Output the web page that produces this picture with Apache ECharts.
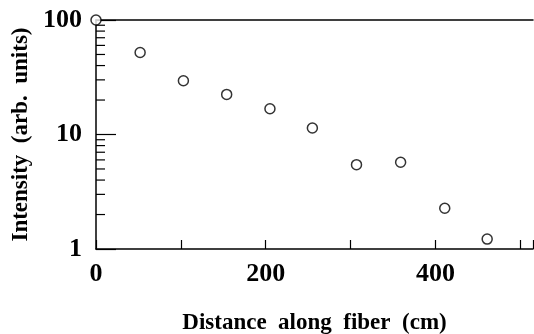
<!DOCTYPE html>
<html>
<head>
    <meta charset="utf-8">
    <title>Intensity vs distance</title>
    <script src="https://cdn.jsdelivr.net/npm/echarts@6/dist/echarts.min.js"></script>
    <style>
        html, body { margin: 0; padding: 0; background: #fff; }
    </style>
</head>
<body>
<div id="main" style="width: 534px;height:334px;"></div>
<script type="text/javascript">
    // values
    var distance = [0, 52, 103, 154, 205, 255, 307, 359, 411, 461];
    var intensity = [100, 52, 29.5, 22.4, 16.8, 11.4, 5.45, 5.72, 2.27, 1.22];
    var xLabels = ['0', '200', '400'];
    var minorTickValues = [2, 3, 4, 5, 6, 7, 8, 9, 20, 30, 40, 50, 60, 70, 80, 90];

    var points = [];
    for (var i = 0; i < distance.length; i++) {
        points.push([distance[i], intensity[i]]);
    }
    var minorData = [];
    for (var j = 0; j < minorTickValues.length; j++) {
        minorData.push([0, minorTickValues[j]]);
    }

    var font = 'Liberation Serif';
    var myChart = echarts.init(document.getElementById('main'));
    var option = {
        animation: false,
        grid: { left: 96, top: 20, right: 1, bottom: 85, outerBoundsMode: 'none', containLabel: false },
        xAxis: [
            {
                type: 'value',
                min: 0,
                max: 515,
                interval: 100,
                name: 'Distance  along  fiber  (cm)',
                nameLocation: 'middle',
                nameGap: 63,
                nameTextStyle: { fontFamily: font, fontWeight: 'bold', fontSize: 23, color: '#000' },
                axisLine: { lineStyle: { color: '#000', width: 1.5 } },
                axisTick: { inside: true, length: 9, lineStyle: { color: '#000', width: 1.2 } },
                axisLabel: {
                    margin: 12,
                    fontFamily: font, fontWeight: 'bold', fontSize: 26, color: '#000',
                    formatter: function (v) {
                        return xLabels.indexOf(String(v)) >= 0 ? String(v) : '';
                    }
                },
                splitLine: { show: false }
            },
            {
                type: 'value',
                position: 'top',
                min: 0,
                max: 515,
                axisLine: { show: true, lineStyle: { color: '#000', width: 1.5 } },
                axisTick: { show: false },
                axisLabel: { show: false },
                splitLine: { show: false }
            }
        ],
        yAxis: {
            type: 'log',
            logBase: 10,
            min: 1,
            max: 100,
            name: 'Intensity  (arb.  units)',
            nameLocation: 'middle',
            nameGap: 63,
            nameTextStyle: { fontFamily: font, fontWeight: 'bold', fontSize: 23, color: '#000' },
            axisLine: { show: true, lineStyle: { color: '#000', width: 1.5 } },
            axisTick: { inside: true, length: 20, lineStyle: { color: '#000', width: 1.2 } },
            axisLabel: { margin: 14, fontFamily: font, fontWeight: 'bold', fontSize: 26, color: '#000' },
            splitLine: { show: false }
        },
        series: [
            {
                // minor log ticks on the y axis
                type: 'custom',
                silent: true,
                clip: false,
                data: minorData,
                renderItem: function (params, api) {
                    var p = api.coord([api.value(0), api.value(1)]);
                    return {
                        type: 'line',
                        shape: { x1: p[0], y1: p[1], x2: p[0] + 9, y2: p[1] },
                        style: { stroke: '#000', lineWidth: 1.2 }
                    };
                }
            },
            {
                type: 'scatter',
                clip: false,
                data: points,
                symbol: 'circle',
                symbolSize: 10,
                itemStyle: { color: '#fff', borderColor: '#000', borderWidth: 1.5 }
            }
        ]
    };
    myChart.setOption(option);
</script>
</body>
</html>
